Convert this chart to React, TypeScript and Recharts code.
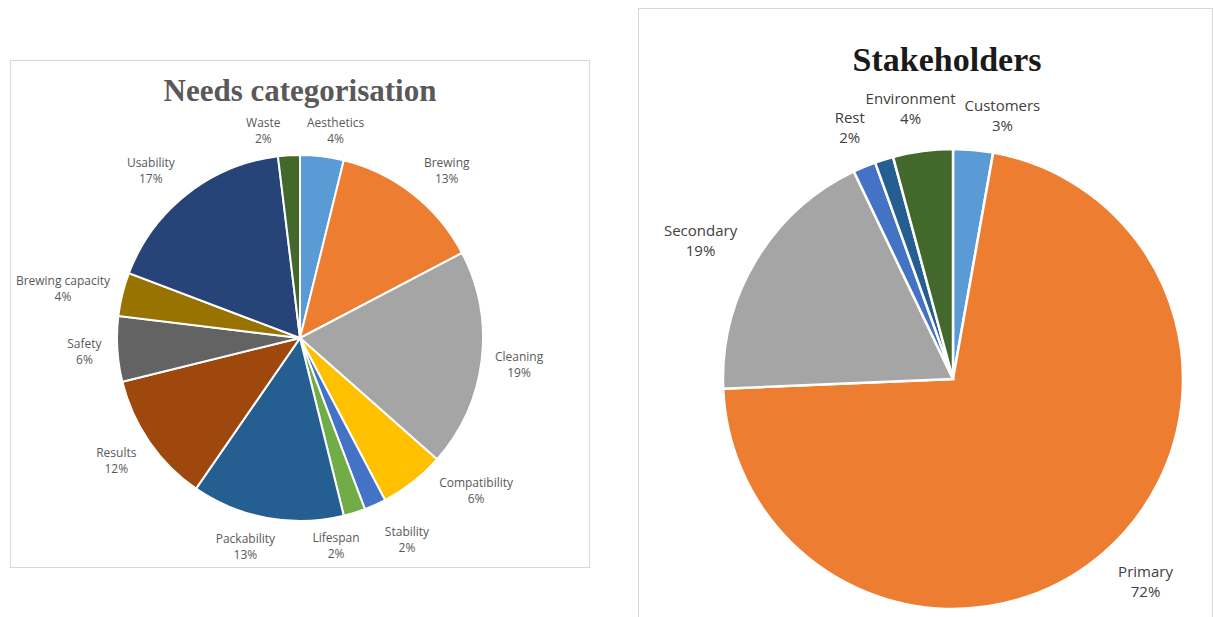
import { Cell, Pie, PieChart } from "recharts";

// Needs categorisation (counts read as share of 52 items)
const NEED_NAMES = [
  "Aesthetics",
  "Brewing",
  "Cleaning",
  "Compatibility",
  "Stability",
  "Lifespan",
  "Packability",
  "Results",
  "Safety",
  "Brewing capacity",
  "Usability",
  "Waste",
];
const NEED_COUNTS = [2, 7, 10, 3, 1, 1, 7, 6, 3, 2, 9, 1];
const NEED_COLORS = [
  "#5b9bd5",
  "#ed7d31",
  "#a5a5a5",
  "#ffc000",
  "#4472c4",
  "#70ad47",
  "#255e91",
  "#9e480e",
  "#636363",
  "#997300",
  "#264478",
  "#43682b",
];

// Stakeholders (percent); the dark blue slice has no label in the source
const STAKE_NAMES = ["Customers", "Primary", "Secondary", "Rest", "Other", "Environment"];
const STAKE_VALUES = [2.8, 71.6, 18.6, 1.6, 1.3, 4.2];
const STAKE_COLORS = ["#5b9bd5", "#ed7d31", "#a5a5a5", "#4472c4", "#255e91", "#43682b"];
const STAKE_HIDDEN = [false, false, false, false, true, false];

// label nudges (Excel shuffles crowded labels a bit)
const NEED_NUDGE: [number, number][] = [
  [10, 4], [11, 6], [0, 0], [35, -27], [18, 4], [-28, 2],
  [-16, -2], [-3, -2], [-3, 1], [0, 9], [-13, 7], [-24, 2],
];
const STAKE_NUDGE: [number, number][] = [[26, 2], [10, -6], [-7, 9], [0, -4], [0, 0], [-7, -3]];

const needData = NEED_NAMES.map((name, i) => ({ name, value: NEED_COUNTS[i] }));
const stakeData = STAKE_NAMES.map((name, i) => ({ name, value: STAKE_VALUES[i] }));

let ctx: CanvasRenderingContext2D | null = null;
function textWidth(s: string, font: string) {
  if (!ctx) ctx = document.createElement("canvas").getContext("2d");
  if (!ctx) return s.length * 7;
  ctx.font = font;
  return ctx.measureText(s).width;
}

type LabelOpts = {
  size: number;
  lineGap: number;
  gap: number;
  color: string;
  family: string;
  hidden?: boolean[];
  nudge?: [number, number][];
};

// Excel-like "outside end" labels: box pushed out until it clears the pie
function makeLabel(o: LabelOpts) {
  return (props: any) => {
    const { cx, cy, midAngle, outerRadius, percent, index } = props;
    const name = props.name ?? props.payload?.name;
    if (o.hidden?.[index]) return null;
    const rad = (-midAngle * Math.PI) / 180;
    const dx = Math.cos(rad);
    const dy = Math.sin(rad);
    const pct = `${Math.round(percent * 100)}%`;
    const font = `${o.size}px ${o.family}`;
    const w = Math.max(textWidth(name, font), textWidth(pct, font));
    const h = o.lineGap + o.size;
    const ext = (Math.abs(dx) * w) / 2 + (Math.abs(dy) * h) / 2;
    const d = outerRadius + o.gap + ext;
    const [nx, ny] = o.nudge?.[index] ?? [0, 0];
    const x = cx + dx * d + nx;
    const y = cy + dy * d + ny;
    const y1 = y - o.lineGap / 2 + o.size * 0.35;
    return (
      <text textAnchor="middle" fill={o.color} fontSize={o.size} fontFamily={o.family}>
        <tspan x={x} y={y1}>
          {name}
        </tspan>
        <tspan x={x} y={y1 + o.lineGap}>
          {pct}
        </tspan>
      </text>
    );
  };
}

const titleStyle = {
  position: "absolute" as const,
  fontFamily: '"Liberation Serif", serif',
  fontWeight: 700,
  whiteSpace: "nowrap" as const,
  transform: "translateX(-50%)",
  lineHeight: 1,
};

const NO_MARGIN = { top: 0, right: 0, bottom: 0, left: 0 };

export default function App() {
  return (
    <div style={{ position: "absolute", left: 0, top: 0, width: 1214, height: 617, background: "#fff", overflow: "hidden" }}>
      <div style={{ position: "absolute", left: 10, top: 60, width: 578, height: 506, border: "1px solid #d9d9d9" }}>
        <div style={{ ...titleStyle, left: 289, top: 14, fontSize: 31, color: "#595959" }}>Needs categorisation</div>
        <div style={{ position: "absolute", left: -1, top: -1 }}>
          <PieChart width={579} height={507} margin={NO_MARGIN}>
            <Pie
              data={needData}
              dataKey="value"
              nameKey="name"
              cx={290}
              cy={278}
              outerRadius={183}
              startAngle={90}
              endAngle={-270}
              stroke="#fff"
              strokeWidth={2}
              labelLine={false}
              label={makeLabel({
                size: 12,
                lineGap: 16,
                gap: 12,
                color: "#595959",
                family: '"Open Sans", sans-serif',
                nudge: NEED_NUDGE,
              })}
              isAnimationActive={false}
            >
              {needData.map((d, i) => (
                <Cell key={d.name} fill={NEED_COLORS[i]} />
              ))}
            </Pie>
          </PieChart>
        </div>
      </div>

      <div style={{ position: "absolute", left: 638, top: 8, width: 573, height: 620, border: "1px solid #d9d9d9" }}>
        <div style={{ ...titleStyle, left: 308, top: 34, fontSize: 34, color: "#1a1a1a" }}>Stakeholders</div>
        <div style={{ position: "absolute", left: -1, top: -1 }}>
          <PieChart width={574} height={620} margin={NO_MARGIN}>
            <Pie
              data={stakeData}
              dataKey="value"
              nameKey="name"
              cx={315}
              cy={371}
              outerRadius={230}
              startAngle={90}
              endAngle={-270}
              stroke="#fff"
              strokeWidth={2.5}
              labelLine={false}
              label={makeLabel({
                size: 15,
                lineGap: 20,
                gap: 16,
                color: "#404040",
                family: '"Open Sans", sans-serif',
                hidden: STAKE_HIDDEN,
                nudge: STAKE_NUDGE,
              })}
              isAnimationActive={false}
            >
              {stakeData.map((d, i) => (
                <Cell key={d.name} fill={STAKE_COLORS[i]} />
              ))}
            </Pie>
          </PieChart>
        </div>
      </div>
    </div>
  );
}
